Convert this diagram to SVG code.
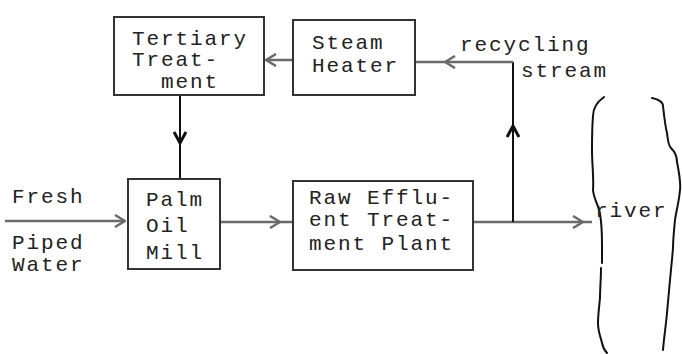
<svg xmlns="http://www.w3.org/2000/svg" width="682" height="354" viewBox="0 0 682 354">
<style>
.box{fill:#fff;stroke:#333;stroke-width:2}
.t{font-family:"Liberation Mono","DejaVu Sans Mono",monospace;font-size:21px;letter-spacing:1.9px;fill:#222}
.g{fill:none;stroke:#6a6a6a;stroke-width:2.5}
.k{fill:none;stroke:#111;stroke-width:2}
.rv{fill:none;stroke:#111;stroke-width:2;stroke-linecap:round}
</style>
<defs>
<marker id="ag" viewBox="0 0 12 14" refX="11" refY="7" markerWidth="12" markerHeight="14" markerUnits="userSpaceOnUse" orient="auto">
<path d="M1,1 L11,7 L1,13" fill="none" stroke="#6a6a6a" stroke-width="2.5"/>
</marker>
<marker id="ak" viewBox="0 0 14 14" refX="12" refY="7" markerWidth="14" markerHeight="14" markerUnits="userSpaceOnUse" orient="auto">
<path d="M1,1 L12,7 L1,13" fill="none" stroke="#111" stroke-width="3"/>
</marker>
</defs>
<rect width="682" height="354" fill="#fff"/>
<g id="connectors">
<path class="g" d="M5,221 L125,221" marker-end="url(#ag)"/>
<path class="g" d="M220,222 L280,222 L293,222" marker-mid="url(#ag)"/>
<path class="g" d="M473,222 L583,222 L592,222" marker-mid="url(#ag)"/>
<path class="k" d="M513,222 L513,126 L513,62" marker-mid="url(#ak)"/>
<path class="g" d="M513,62 L445,62 L415,62" marker-mid="url(#ag)"/>
<path class="g" d="M293,60 L266,60" marker-end="url(#ag)"/>
<path class="k" d="M180,95 L180,143 L180,179" marker-mid="url(#ak)"/>
</g>
<g id="tertiary">
<rect class="box" x="114" y="17" width="150" height="78"/>
<text class="t" x="132" y="45">Tertiary</text>
<text class="t" x="132" y="66">Treat-</text>
<text class="t" x="161" y="88">ment</text>
</g>
<g id="steam">
<rect class="box" x="293" y="20" width="122" height="75"/>
<text class="t" x="312" y="49">Steam</text>
<text class="t" x="312" y="72">Heater</text>
</g>
<g id="palm">
<rect class="box" x="128" y="179" width="92" height="90"/>
<text class="t" x="146" y="206">Palm</text>
<text class="t" x="146" y="232">Oil</text>
<text class="t" x="146" y="259">Mill</text>
</g>
<g id="raw">
<rect class="box" x="293" y="181" width="180" height="89"/>
<text class="t" x="309" y="204">Raw Efflu-</text>
<text class="t" x="309" y="226">ent Treat-</text>
<text class="t" x="309" y="250">ment Plant</text>
</g>
<g id="fresh">
<text class="t" x="12" y="203">Fresh</text>
<text class="t" x="12" y="249">Piped</text>
<text class="t" x="12" y="271">Water</text>
</g>
<g id="recycling">
<text class="t" x="460" y="51">recycling</text>
<text class="t" x="521" y="77">stream</text>
</g>
<g id="river">
<path class="rv" d="M604,97 C597,102 593,108 593,116 C592,128 592,140 592,150 C592,165 594,178 593,190 C594,200 599,206 600,214 C602,225 602,236 602,245 C602,252 602,258 602,263"/>
<path class="rv" d="M601,268 C601,278 600,290 600,298 C599,308 598,316 598,323 C598,332 601,338 602,343 C603,348 605,351 607,353"/>
<path class="rv" d="M652,98 C658,99 663,102 663,106 C664,115 665,125 667,133 C668,140 668,145 671,148 C675,152 677,156 677,162 C679,172 681,182 680,190 C679,202 676,212 675,220 C674,230 673,240 673,248 C672,260 671,270 670,280 C669,292 668,303 667,313 C666,325 664,337 663,350"/>
<text class="t" x="595" y="217">river</text>
</g>
</svg>
